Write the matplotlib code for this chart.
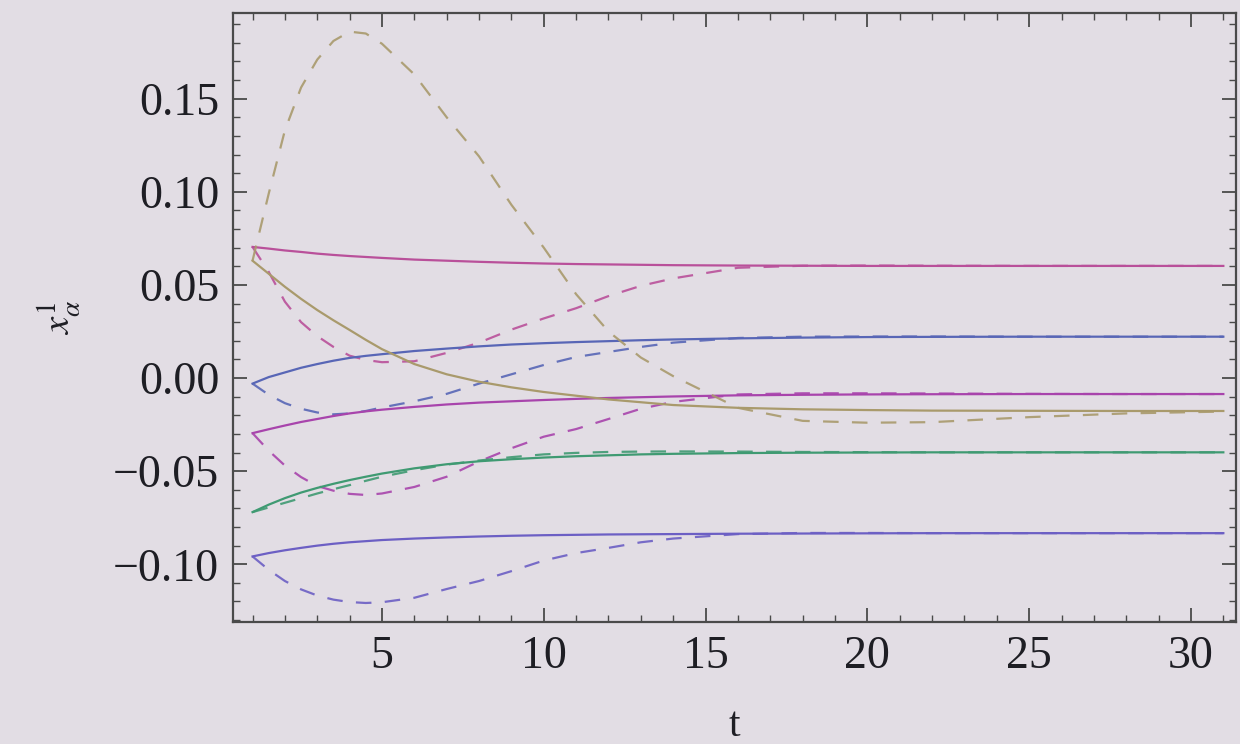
import matplotlib
matplotlib.use("Agg")
import matplotlib.pyplot as plt
from matplotlib.ticker import MultipleLocator, FuncFormatter

# sample times
t = [1, 1.5, 2, 2.5, 3, 3.5, 4, 4.5, 5, 6, 7, 8, 9, 10, 11, 12, 13, 14, 16, 18, 20, 22, 25, 28, 31]

# solid curves
pink_solid = [0.0704, 0.0695, 0.0685, 0.0677, 0.0668, 0.0661, 0.0655, 0.0650, 0.0645, 0.0636,
              0.0630, 0.0624, 0.0619, 0.0615, 0.0612, 0.0610, 0.0608, 0.0606, 0.0604, 0.0603,
              0.0602, 0.0602, 0.0602, 0.0602, 0.0602]
blue_solid = [-0.0030, 0.0005, 0.0030, 0.0055, 0.0075, 0.0093, 0.0108, 0.0119, 0.0128, 0.0145,
              0.0158, 0.0170, 0.0180, 0.0187, 0.0193, 0.0198, 0.0203, 0.0207, 0.0213, 0.0217,
              0.0220, 0.0221, 0.0222, 0.0222, 0.0222]
purple_solid = [-0.0296, -0.0275, -0.0255, -0.0236, -0.0220, -0.0204, -0.0190, -0.0179, -0.0170,
                -0.0155, -0.0142, -0.0132, -0.0125, -0.0118, -0.0112, -0.0107, -0.0103, -0.0099,
                -0.0093, -0.0090, -0.0088, -0.0087, -0.0086, -0.0086, -0.0086]
green_solid = [-0.0720, -0.0680, -0.0645, -0.0615, -0.0590, -0.0568, -0.0548, -0.0530, -0.0513,
               -0.0485, -0.0463, -0.0447, -0.0436, -0.0427, -0.0420, -0.0415, -0.0410, -0.0407,
               -0.0403, -0.0401, -0.0400, -0.0399, -0.0399, -0.0399, -0.0399]
violet_solid = [-0.0958, -0.0940, -0.0925, -0.0912, -0.0900, -0.0890, -0.0882, -0.0876, -0.0870,
                -0.0862, -0.0856, -0.0851, -0.0847, -0.0844, -0.0842, -0.0840, -0.0839, -0.0838,
                -0.0836, -0.0835, -0.0834, -0.0833, -0.0833, -0.0833, -0.0833]
tan_solid = [0.0630, 0.0560, 0.0490, 0.0425, 0.0365, 0.0310, 0.0258, 0.0205, 0.0155, 0.0075,
             0.0020, -0.0020, -0.0050, -0.0075, -0.0095, -0.0115, -0.0130, -0.0145, -0.0160,
             -0.0168, -0.0172, -0.0175, -0.0176, -0.0177, -0.0177]

# dashed curves
pink_dash = [0.0704, 0.0570, 0.0410, 0.0300, 0.0225, 0.0167, 0.0120, 0.0097, 0.0085, 0.0090,
             0.0135, 0.0190, 0.0260, 0.0320, 0.0375, 0.0440, 0.0495, 0.0535, 0.0592, 0.0603,
             0.0604, 0.0603, 0.0602, 0.0602, 0.0602]
blue_dash = [-0.0030, -0.0090, -0.0135, -0.0165, -0.0185, -0.0195, -0.0190, -0.0177, -0.0158,
             -0.0125, -0.0085, -0.0030, 0.0020, 0.0070, 0.0113, 0.0140, 0.0167, 0.0190, 0.0215,
             0.0222, 0.0223, 0.0223, 0.0222, 0.0222, 0.0222]
purple_dash = [-0.0296, -0.0390, -0.0470, -0.0532, -0.0580, -0.0605, -0.0622, -0.0628, -0.0620,
               -0.0585, -0.0530, -0.0448, -0.0377, -0.0315, -0.0274, -0.0220, -0.0165, -0.0128,
               -0.0088, -0.0082, -0.0082, -0.0083, -0.0085, -0.0086, -0.0086]
green_dash = [-0.0720, -0.0695, -0.0670, -0.0645, -0.0620, -0.0597, -0.0575, -0.0552, -0.0530,
              -0.0495, -0.0465, -0.0443, -0.0425, -0.0410, -0.0402, -0.0397, -0.0395, -0.0394,
              -0.0395, -0.0397, -0.0398, -0.0399, -0.0399, -0.0399, -0.0399]
violet_dash = [-0.0958, -0.1030, -0.1090, -0.1135, -0.1168, -0.1190, -0.1203, -0.1208, -0.1204,
               -0.1180, -0.1133, -0.1090, -0.1037, -0.0980, -0.0940, -0.0912, -0.0882, -0.0862,
               -0.0838, -0.0832, -0.0832, -0.0833, -0.0833, -0.0833, -0.0833]
tan_dash = [0.0630, 0.0990, 0.1330, 0.1560, 0.1710, 0.1810, 0.1860, 0.1850, 0.1795, 0.1630,
            0.1400, 0.1190, 0.0930, 0.0700, 0.0450, 0.0250, 0.0110, 0.0010, -0.0160, -0.0230,
            -0.0240, -0.0237, -0.0210, -0.0190, -0.0180]

x_ticks = [5, 10, 15, 20, 25, 30]
y_ticks = [-0.10, -0.05, 0.00, 0.05, 0.10, 0.15]

BG = "#e2dde4"
FRAME = "#4a4a4a"
INK = "#1e1e24"
SERIF = ["Liberation Serif", "DejaVu Serif"]

plt.rcParams["mathtext.fontset"] = "stix"

series = [
    (pink_solid, pink_dash, "#b9509a"),
    (blue_solid, blue_dash, "#5866b6"),
    (purple_solid, purple_dash, "#a844ac"),
    (green_solid, green_dash, "#3f9a72"),
    (violet_solid, violet_dash, "#6c5fc4"),
    (tan_solid, tan_dash, "#a99a6c"),
]

fig = plt.figure(figsize=(12.4, 7.44), dpi=100, facecolor=BG)
ax = fig.add_axes([0.188, 0.164, 0.809, 0.8185], facecolor=BG)

for solid, dashed, col in series:
    ax.plot(t, solid, color=col, lw=1.6, solid_joinstyle="round")
    ax.plot(t, dashed, color=col, lw=1.6, ls=(0, (7, 6)), alpha=0.9)

ax.set_xlim(0.4, 31.4)
ax.set_ylim(-0.131, 0.196)

ax.xaxis.set_minor_locator(MultipleLocator(1))
ax.yaxis.set_minor_locator(MultipleLocator(0.01))
ax.set_xticks(x_ticks)
ax.set_yticks(y_ticks)
ax.yaxis.set_major_formatter(FuncFormatter(lambda v, p: f"{v:.2f}".replace("-", "\u2212")))

for s in ax.spines.values():
    s.set_color(FRAME)
    s.set_linewidth(1.6)

ax.tick_params(which="both", direction="in", top=True, right=True, color=FRAME)
ax.tick_params(which="major", length=10, width=1.3)
ax.tick_params(which="minor", length=5, width=1.0)
ax.tick_params(axis="y", which="major", pad=10)
ax.tick_params(axis="x", which="major", pad=10)

for lab in ax.get_xticklabels() + ax.get_yticklabels():
    lab.set_family(SERIF)
    lab.set_fontsize(33)
    lab.set_color(INK)

ax.set_xlabel("t", family=SERIF, fontsize=30, color=INK, labelpad=20)
ax.set_ylabel(r"$x_{\alpha}^{1}$", fontsize=28, color=INK, labelpad=22)

fig.savefig("out.png", dpi=100, facecolor=BG)
